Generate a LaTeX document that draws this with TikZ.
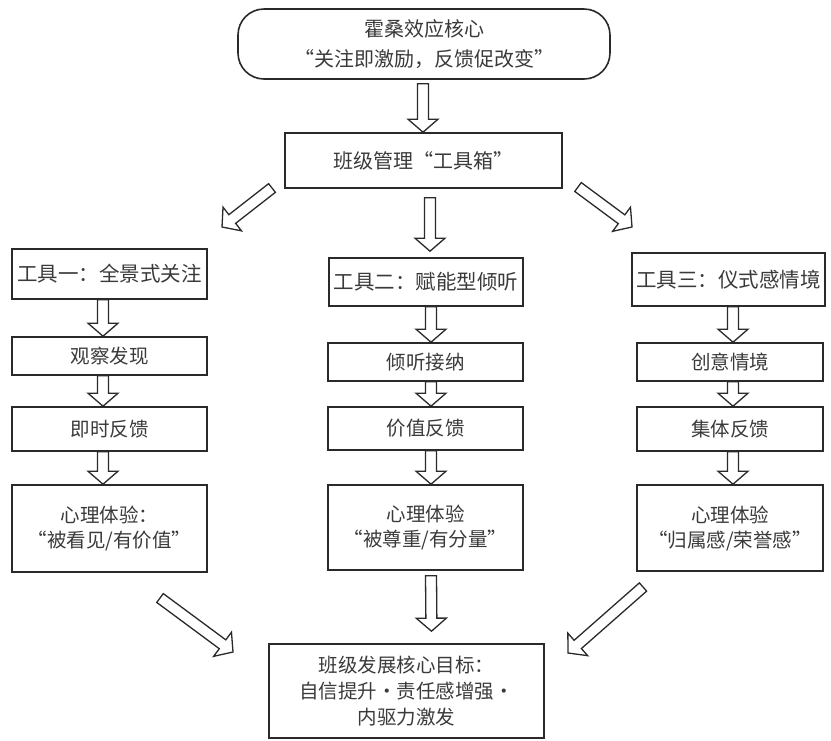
\documentclass[tikz,border=0pt]{standalone}
\usepackage{fontspec}
\setmainfont{Noto Sans CJK SC}
\usetikzlibrary{calc}
\definecolor{ink}{HTML}{2A2A2A}
\definecolor{txt}{HTML}{3A3A3A}
\tikzset{
  box/.style={draw=ink, line width=1.6pt, rectangle, inner sep=0pt, align=center,
    text=txt, font=\fontsize{19.5}{25}\selectfont},
  barrowstyle/.style={draw=ink, line width=1.3pt, fill=white, line join=miter},
}
\newcommand\barrow[2]{%
  \coordinate (ba-s) at (#1);
  \coordinate (ba-e) at (#2);
  \coordinate (ba-h) at ($(ba-e)!13pt!(ba-s)$);
  \draw[barrowstyle] ($(ba-s)!5.5pt!90:(ba-e)$) -- ($(ba-h)!5.5pt!90:(ba-e)$)
    -- ($(ba-h)!15pt!90:(ba-e)$) -- (ba-e) -- ($(ba-h)!15pt!-90:(ba-e)$)
    -- ($(ba-h)!5.5pt!-90:(ba-e)$) -- ($(ba-s)!5.5pt!-90:(ba-e)$) -- cycle;
}
\begin{document}
\begin{tikzpicture}[x=1pt,y=-1pt]
\useasboundingbox (0,0) rectangle (831,740);
% nodes
\node[box, rounded corners=26pt, minimum width=372pt, minimum height=70pt,
  font=\fontsize{20}{30}\selectfont] (top) at (424,44) {霍桑效应核心\\“关注即激励，反馈促改变”};
\node[box, minimum width=277pt, minimum height=55pt, font=\fontsize{20}{25}\selectfont] (tool) at (423.5,160.5) {班级管理“工具箱”};
\node[box, minimum width=195pt, minimum height=50pt, font=\fontsize{20.5}{25}\selectfont] (t1) at (109.5,274) {工具一：全景式关注};
\node[box, minimum width=194pt, minimum height=48pt, font=\fontsize{20.5}{25}\selectfont] (t2) at (426,282) {工具二：赋能型倾听};
\node[box, minimum width=193pt, minimum height=53pt, font=\fontsize{20.5}{25}\selectfont] (t3) at (728.5,279.5) {工具三：仪式感情境};
\node[box, minimum width=195pt, minimum height=38pt] (l1) at (109.5,356) {观察发现};
\node[box, minimum width=195pt, minimum height=44pt] (l2) at (109.5,429) {即时反馈};
\node[box, minimum width=195pt, minimum height=87pt] (l3) at (109.5,528.5) {心理体验：\\“被看见/有价值”};
\node[box, minimum width=195pt, minimum height=38pt] (m1) at (425.5,362) {倾听接纳};
\node[box, minimum width=195pt, minimum height=43pt] (m2) at (425.5,428.5) {价值反馈};
\node[box, minimum width=195pt, minimum height=85pt] (m3) at (425.5,527.5) {心理体验\\“被尊重/有分量”};
\node[box, minimum width=186pt, minimum height=38pt] (r1) at (730,362) {创意情境};
\node[box, minimum width=186pt, minimum height=44pt] (r2) at (730,429) {集体反馈};
\node[box, minimum width=186pt, minimum height=86pt] (r3) at (730,528) {心理体验\\“归属感/荣誉感”};
\node[box, minimum width=275pt, minimum height=94pt, font=\fontsize{19.5}{26}\selectfont] (goal) at (406.5,691) {班级发展核心目标：\\自信提升·责任感增强·\\内驱力激发};
% free ends of diagonal arrows
\coordinate (ul-s) at (272,188); \coordinate (ul-e) at (222,227);
\coordinate (ur-s) at (578,187); \coordinate (ur-e) at (632,227);
\coordinate (ll-s) at (160,598); \coordinate (ll-e) at (233,652);
\coordinate (lr-s) at (643,587); \coordinate (lr-e) at (568,653);
% arrows
\barrow{$(top.south)+(-1,4)$}{$(tool.north)+(-0.5,0)$}
\barrow{$(tool.south)+(6.5,9)$}{$(t2.north)+(4,-6)$}
\barrow{ul-s}{ul-e}
\barrow{ur-s}{ur-e}
\barrow{$(t1.south)+(-6.5,0)$}{$(l1.north)+(-6.5,0)$}
\barrow{$(l1.south)+(-6.5,0)$}{$(l2.north)+(-6.5,0)$}
\barrow{$(l2.south)+(-6.5,0)$}{$(l3.north)+(-6.5,0)$}
\barrow{$(t2.south)+(5,0)$}{$(m1.north)+(5.5,0)$}
\barrow{$(m1.south)+(5.5,0)$}{$(m2.north)+(5.5,0)$}
\barrow{$(m2.south)+(5.5,0)$}{$(m3.north)+(5.5,0)$}
\barrow{$(t3.south)+(4.5,0)$}{$(r1.north)+(3,0)$}
\barrow{$(r1.south)+(3,0)$}{$(r2.north)+(3,0)$}
\barrow{$(r2.south)+(3,0)$}{$(r3.north)+(3,0)$}
\barrow{$(m3.south)+(5.5,5)$}{$(goal.north)+(25,-12)$}
\barrow{ll-s}{ll-e}
\barrow{lr-s}{lr-e}
\end{tikzpicture}
\end{document}
